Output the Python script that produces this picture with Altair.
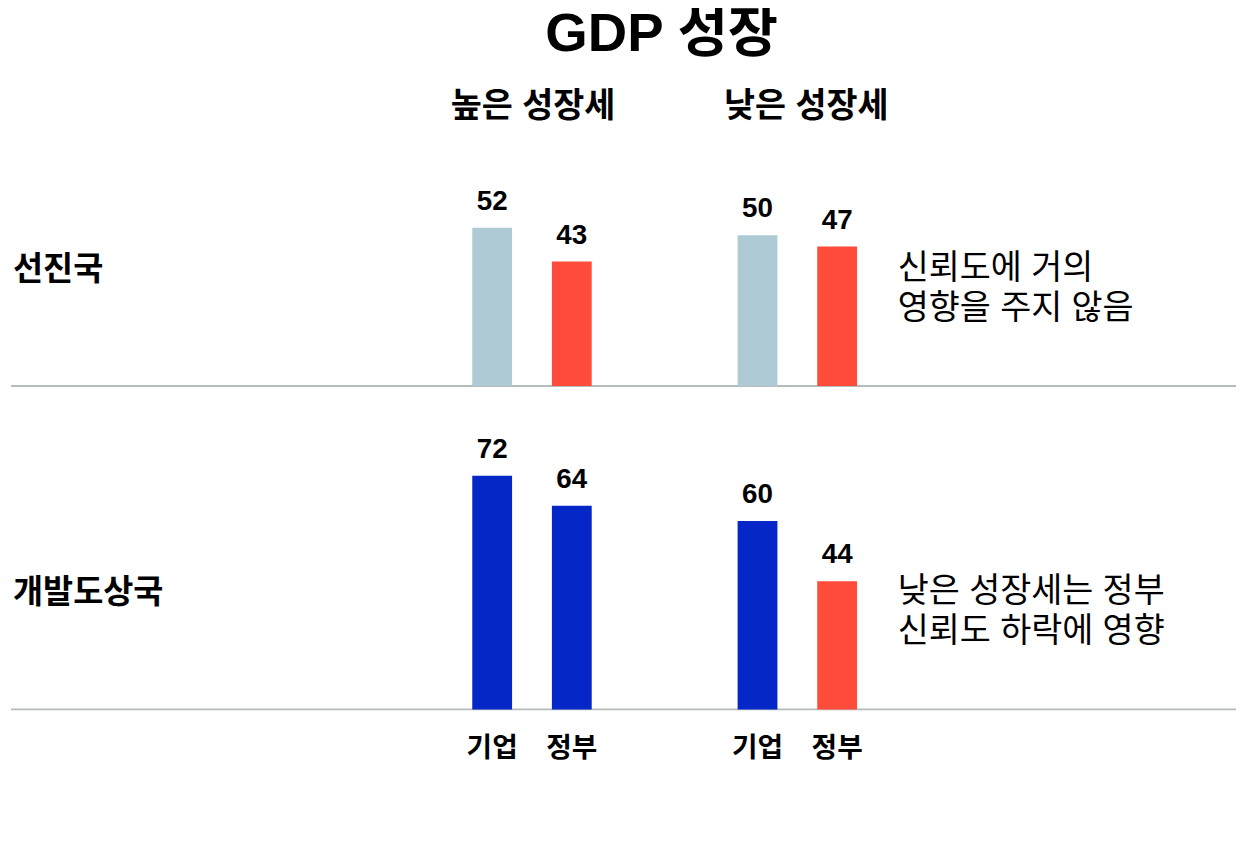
import altair as alt
import pandas as pd

# ---- data ----
groups = ["높은 성장세", "낮은 성장세"]
sectors = ["기업", "정부"]
regions = ["선진국", "개발도상국"]
values_by_region = {
    "선진국": [52, 43, 50, 47],
    "개발도상국": [72, 64, 60, 44],
}
tones_by_region = {
    "선진국": ["light", "red", "light", "red"],
    "개발도상국": ["blue", "blue", "blue", "red"],
}
notes_by_region = {
    "선진국": "신뢰도에 거의\n영향을 주지 않음",
    "개발도상국": "낮은 성장세는 정부\n신뢰도 하락에 영향",
}
tone_domain = ["light", "red", "blue"]
tone_colors = ["#aecad4", "#ff4b3a", "#0527c7"]
title_text = "GDP 성장"

# ---- layout / style ----
FONT = "'Liberation Sans', 'Noto Sans CJK KR', sans-serif"
W = 1070
H = 266
LEFT = -124
RIGHT = 1111
Y_MIN, Y_MAX = 10, 80
HEADER_DX = [1, 9]

xscale = alt.Scale(domain=groups, paddingInner=0, paddingOuter=1, round=False)
xoscale = alt.Scale(domain=sectors, paddingInner=0.5, paddingOuter=0.916, round=False)
yscale = alt.Scale(domain=[Y_MIN, Y_MAX], zero=False, nice=False)
cscale = alt.Scale(domain=tone_domain, range=tone_colors)


def row_chart(region, first, last):
    df = pd.DataFrame({
        "group": [g for g in groups for _ in sectors],
        "sector": sectors * len(groups),
        "value": values_by_region[region],
        "tone": tones_by_region[region],
    })
    meta = pd.DataFrame({"region": [region], "note": [notes_by_region[region]]})

    x = alt.X("group:N", scale=xscale, axis=None, sort=groups)
    xo = alt.XOffset("sector:N", scale=xoscale, sort=sectors)
    y = alt.Y("value:Q", scale=yscale, axis=None)

    base = alt.Chart(df)
    bars = base.mark_bar(clip=True).encode(
        x=x, xOffset=xo, y=y,
        color=alt.Color("tone:N", scale=cscale, legend=None),
    )
    vlabels = base.mark_text(
        fontSize=28, fontWeight="bold", baseline="alphabetic", dy=-18, color="#000"
    ).encode(x=x, xOffset=xo, y=y, text="value:Q")

    rule = alt.Chart(meta).mark_rule(color="#b5bcbc", strokeWidth=2).encode(
        x=alt.value(LEFT), x2=alt.value(RIGHT), y=alt.value(H)
    )
    rlabel = alt.Chart(meta).mark_text(
        align="left", baseline="middle", fontSize=33, fontWeight="bold", color="#000"
    ).encode(x=alt.value(LEFT + 2), y=alt.value(H / 2 + 16), text="region:N")
    note = alt.Chart(meta).mark_text(
        align="left", baseline="middle", fontSize=34, lineHeight=40,
        lineBreak="\n", color="#000"
    ).encode(x=alt.value(770), y=alt.value(H / 2 + 15), text="note:N")

    layers = [rule, bars, vlabels, rlabel, note]
    if first:
        hdr_df = pd.DataFrame({"group": groups})
        for g, dx in zip(groups, HEADER_DX):
            hdr = alt.Chart(hdr_df).transform_filter(
                alt.datum.group == g
            ).mark_text(
                fontSize=34, fontWeight="bold", baseline="middle", dx=dx, color="#000"
            ).encode(x=x, y=alt.value(-15), text="group:N")
            layers.append(hdr)
    if last:
        slabels = base.mark_text(
            fontSize=28, fontWeight="bold", baseline="middle", color="#000"
        ).encode(x=x, xOffset=xo, y=alt.value(H + 40), text="sector:N")
        layers.append(slabels)
    return alt.layer(*layers).properties(width=W, height=H)


rows = [row_chart(r, i == 0, i == len(regions) - 1) for i, r in enumerate(regions)]

chart = alt.vconcat(*rows, spacing=60, bounds="flush").properties(
    title=alt.TitleParams(
        text=title_text, fontSize=55, fontWeight="bold", anchor="middle",
        frame="group", dx=-3, offset=28, color="#000",
    ),
    padding={"left": 2, "top": -4, "right": 0, "bottom": 0},
).configure(font=FONT).configure_view(stroke=None)

chart.save("out.html", embed_options={"renderer": "svg", "actions": False})
